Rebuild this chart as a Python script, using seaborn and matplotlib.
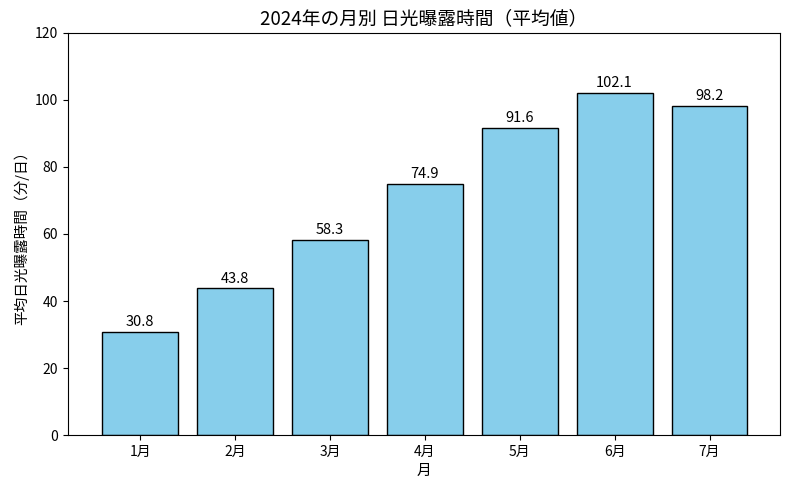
import matplotlib
matplotlib.use("Agg")
import matplotlib.pyplot as plt
import seaborn as sns
import pandas as pd

months = ["1月", "2月", "3月", "4月", "5月", "6月", "7月"]
sunshine = [30.8, 43.8, 58.3, 74.9, 91.6, 102.1, 98.2]

sns.set_style("ticks")
plt.rcParams['font.family'] = ['Noto Sans CJK JP', 'DejaVu Sans']
plt.rcParams['text.color'] = 'black'
plt.rcParams['axes.labelcolor'] = 'black'
plt.rcParams['xtick.color'] = 'black'
plt.rcParams['ytick.color'] = 'black'

df = pd.DataFrame({"month": months, "value": sunshine})

fig, ax = plt.subplots(figsize=(7.9, 4.9), dpi=100)
sns.barplot(data=df, x="month", y="value", color="skyblue", saturation=1,
            edgecolor="black", linewidth=1, width=0.8, ax=ax)

for cont in ax.containers:
    ax.bar_label(cont, labels=[f"{v:.1f}" for v in sunshine], padding=2, fontsize=10.5)

ax.set_xlim(-0.76, 6.74)
ax.set_ylim(0, 120)
ax.set_title("2024年の月別 日光曝露時間（平均値）", fontsize=13.5)
ax.set_xlabel("月", fontsize=10.5)
ax.set_ylabel("平均日光曝露時間（分/日）", fontsize=10.5)
ax.tick_params(labelsize=10)
for s in ax.spines.values():
    s.set_visible(True)
    s.set_color("black")
fig.subplots_adjust(left=0.086, right=0.987, top=0.933, bottom=0.112)
fig.savefig("out.png", dpi=100)
